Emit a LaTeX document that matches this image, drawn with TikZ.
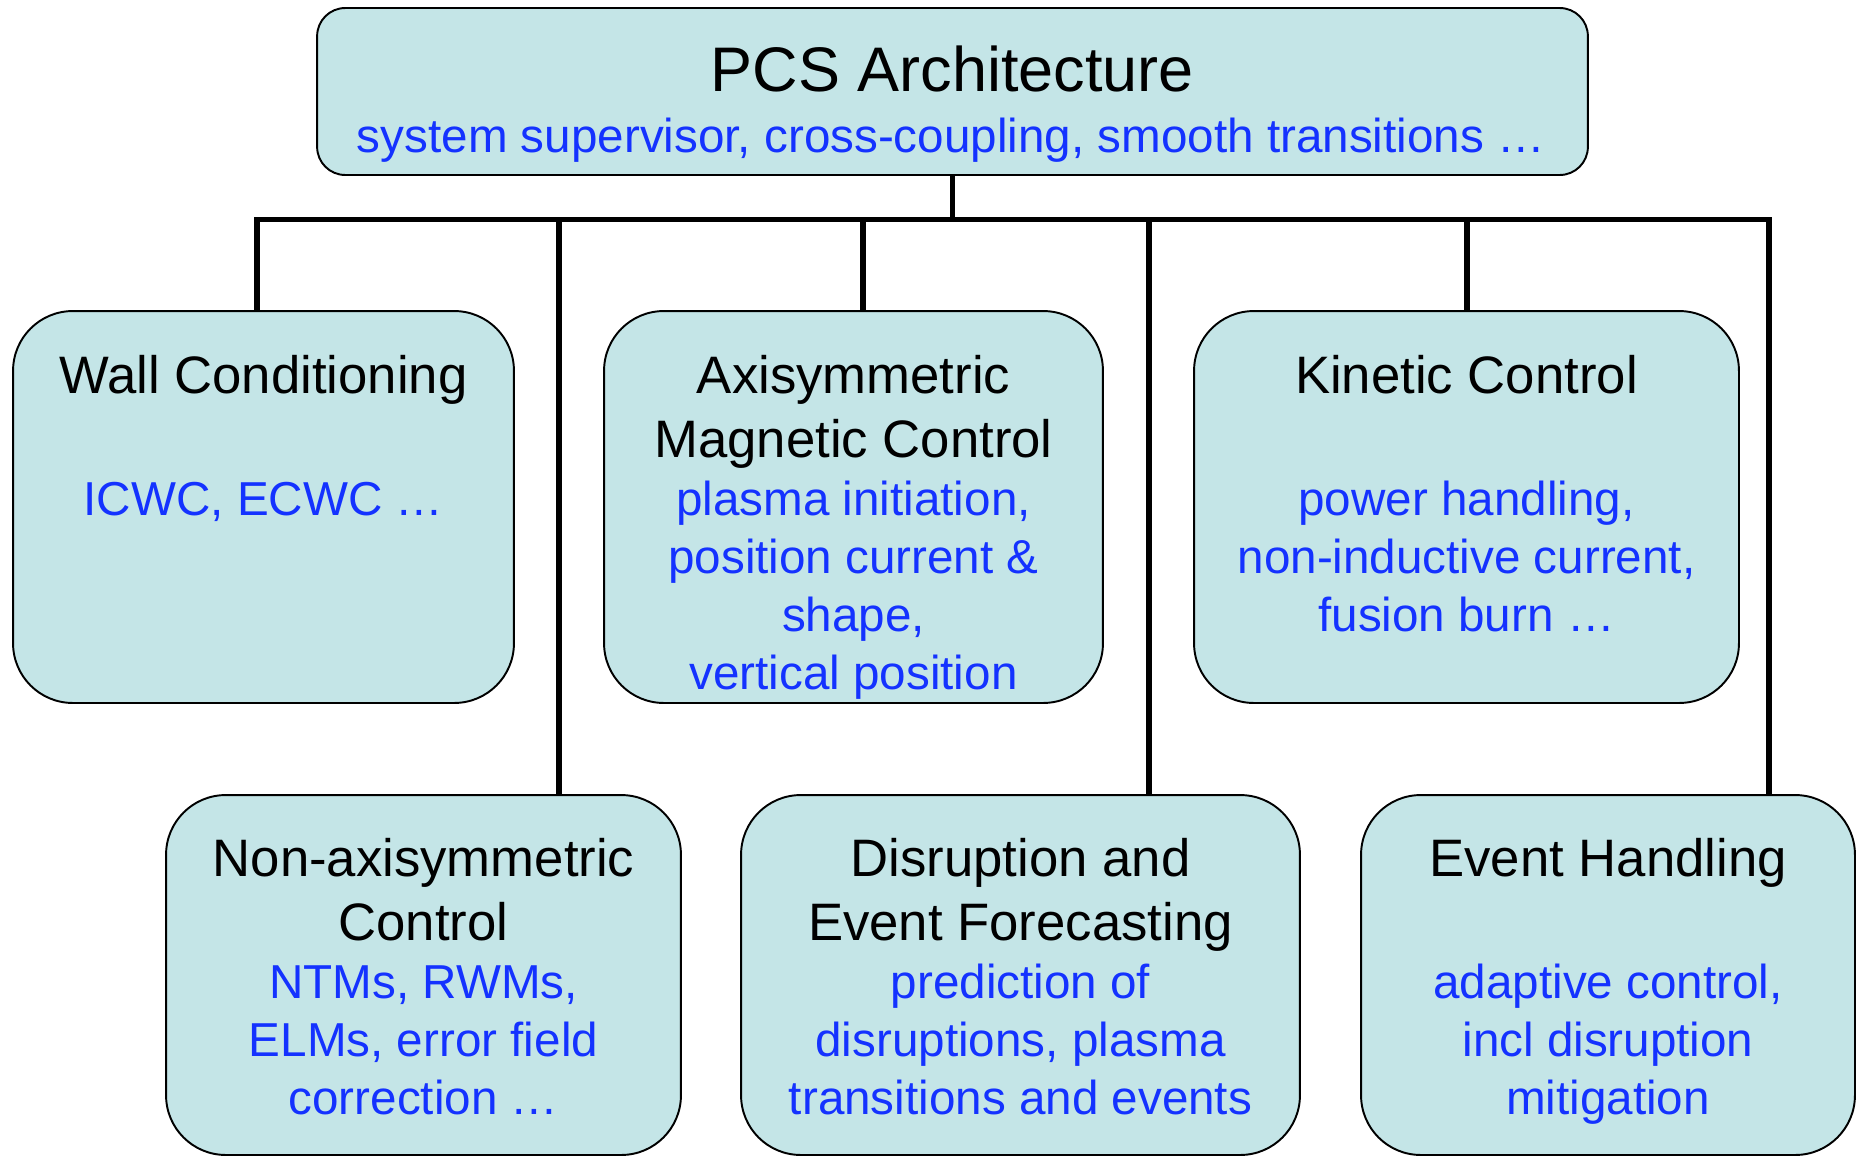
\documentclass[tikz,border=0pt]{standalone}
\usepackage{fontspec}
\setmainfont{Liberation Sans}
\definecolor{boxfill}{RGB}{196,229,231}
\definecolor{noteblue}{RGB}{20,50,255}

\begin{document}
\begin{tikzpicture}[x=0.02cm,y=-0.02cm,
  box/.style={draw,fill=boxfill,line width=1.1pt,rounded corners=34pt},
  head/.style={font=\fontsize{30}{36.4}\selectfont,align=center,anchor=base,inner sep=0pt},
  note/.style={font=\fontsize{27.1}{33}\selectfont,text=noteblue,align=center,anchor=base,inner sep=0pt},
  wire/.style={line width=3.2pt}]
\useasboundingbox (0,0) rectangle (1856,1157);

\node[box,rounded corners=16pt,minimum width=25.42cm,minimum height=3.34cm] (pcs) at (952.5,91.5) {};
\node[box,minimum width=10.02cm,minimum height=7.84cm] (wall) at (263.5,507) {};
\node[box,minimum width=9.98cm,minimum height=7.84cm] (axi) at (853.5,507) {};
\node[box,minimum width=10.9cm,minimum height=7.84cm] (kin) at (1466.5,507) {};
\node[box,minimum width=10.3cm,minimum height=7.2cm] (nonaxi) at (423.5,975) {};
\node[box,minimum width=11.18cm,minimum height=7.2cm] (forecast) at (1020.5,975) {};
\node[box,minimum width=9.88cm,minimum height=7.2cm] (event) at (1608,975) {};

% texts sit on the baseline of their last line
\node[head,font=\fontsize{35.85}{43}\selectfont] (pcstitle) at (952.5,91) {PCS Architecture};
\node[note] (pcsnote) at (951,152) {system supervisor, cross-coupling, smooth transitions …};

\node[head] (walltitle) at (263.5,393) {Wall Conditioning};
\node[note] (wallnote) at (263.5,515) {ICWC, ECWC …};
\node[head] (axititle) at (853.5,457) {Axisymmetric\\Magnetic Control};
\node[note] (axinote) at (853.5,689) {plasma initiation,\\position current \&\\shape,\\vertical position};
\node[head] (kintitle) at (1466.5,393) {Kinetic Control};
\node[note] (kinnote) at (1466.5,631) {power handling,\\non-inductive current,\\fusion burn …};

\node[head] (nonaxititle) at (423.5,940) {Non-axisymmetric\\Control};
\node[note] (nonaxinote) at (423.5,1114) {NTMs, RWMs,\\ELMs, error field\\correction …};
\node[head] (forecasttitle) at (1020.5,940) {Disruption and\\Event Forecasting};
\node[note] (forecastnote) at (1020.5,1114) {prediction of\\disruptions, plasma\\transitions and events};
\node[head] (eventtitle) at (1608,876) {Event Handling};
\node[note] (eventnote) at (1608,1114) {adaptive control,\\incl disruption\\mitigation};

% taps on the bus
\coordinate (tap1) at (257,219.5);
\coordinate (tap2) at (559,219.5);
\coordinate (tap3) at (863,219.5);
\coordinate (tap4) at (1149,219.5);
\coordinate (tap5) at (1467,219.5);
\coordinate (tap6) at (1769,219.5);

\draw[wire] (pcs.south) -- (pcs.south |- tap1);
\draw[wire] (tap1 |- wall.north) -- (tap1) -- (tap6) -- (tap6 |- event.north);
\draw[wire] (tap2) -- (tap2 |- nonaxi.north);
\draw[wire] (tap3) -- (tap3 |- axi.north);
\draw[wire] (tap4) -- (tap4 |- forecast.north);
\draw[wire] (tap5) -- (tap5 |- kin.north);
\end{tikzpicture}
\end{document}
